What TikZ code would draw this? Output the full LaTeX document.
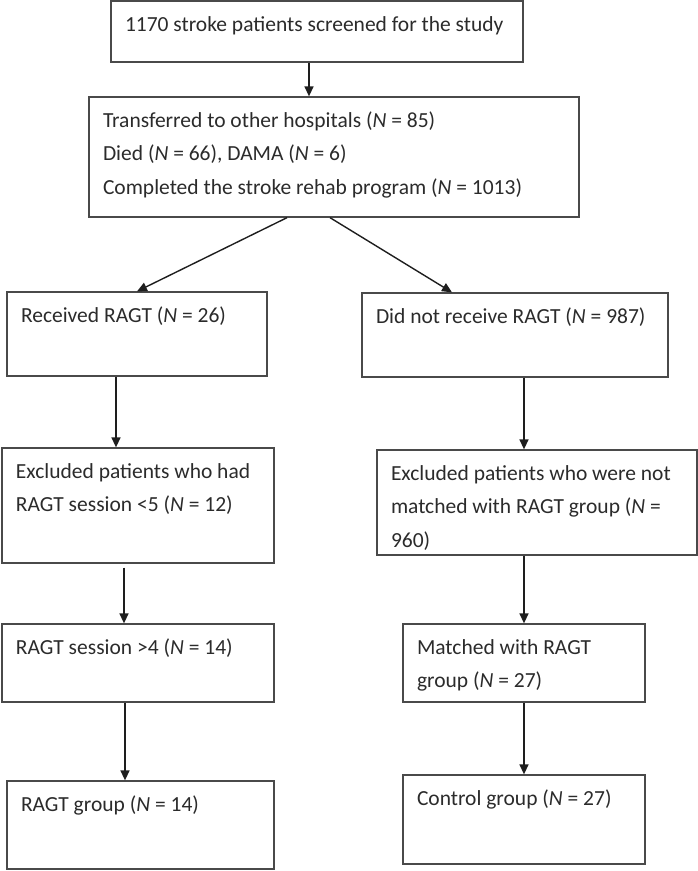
\documentclass[tikz,border=0pt]{standalone}
\usepackage{fontspec}
\setmainfont{Carlito}
\usetikzlibrary{arrows.meta}

\definecolor{boxline}{HTML}{4A4A4A}
\definecolor{arrline}{HTML}{1E1E1E}
\definecolor{txtgray}{HTML}{2B2B2B}

% text set at the top left of a box of fixed size
\newcommand{\flowtext}[3]{\parbox[c][#1][t]{#2}{\raggedright\rule{0pt}{30pt}#3}}

\tikzset{
    flowbox/.style={draw=boxline, line width=1.3pt, inner xsep=14pt, inner ysep=0pt,
        text=txtgray, font=\fontsize{21.5}{33.5}\selectfont},
    flowarrow/.style={draw=arrline, line width=1.4pt, -{Triangle[length=10pt,width=9pt]}}
}

\begin{document}
\begin{tikzpicture}[x=1pt,y=-1pt]
        \useasboundingbox (0,0) rectangle (698,871);

        \node[flowbox] (b1) at (317,31.5) {\flowtext{61pt}{384pt}{1170 stroke patients screened for the study}};
        \node[flowbox] (b2) at (334,157) {\flowtext{120pt}{462pt}{Transferred to other hospitals (\textit{N} = 85)\\
            Died (\textit{N} = 66), DAMA (\textit{N} = 6)\\
            Completed the stroke rehab program (\textit{N} = 1013)}};

        \node[flowbox] (r1) at (137,334) {\flowtext{84pt}{232pt}{Received RAGT (\textit{N} = 26)}};
        \node[flowbox] (r2) at (138,505.5) {\flowtext{115pt}{244pt}{Excluded patients who had\\
            RAGT session <5 (\textit{N} = 12)}};
        \node[flowbox] (r3) at (138,663) {\flowtext{78pt}{244pt}{RAGT session >4 (\textit{N} = 14)}};
        \node[flowbox] (r4) at (140.5,825) {\flowtext{88pt}{239pt}{RAGT group (\textit{N} = 14)}};

        \node[flowbox] (n1) at (515,335) {\flowtext{84pt}{278pt}{Did not receive RAGT (\textit{N} = 987)}};
        \node[flowbox] (n2) at (537,502.5) {\flowtext{105pt}{292pt}{Excluded patients who were not\\
            matched with RAGT group (\textit{N} =\\
            960)}};
        \node[flowbox] (n3) at (524,663) {\flowtext{78pt}{214pt}{Matched with RAGT\\
            group (\textit{N} = 27)}};
        \node[flowbox] (n4) at (524,819.5) {\flowtext{89pt}{214pt}{Control group (\textit{N} = 27)}};

        \draw[flowarrow] ([xshift=-8pt]b1.south) -- ([xshift=-8pt]b1.south |- b2.north);
        \draw[flowarrow] ([xshift=-47pt]b2.south) -- (r1.north);
        \draw[flowarrow] ([xshift=-4pt]b2.south) -- ([xshift=-63pt]n1.north);

        \draw[flowarrow] ([xshift=-21pt]r1.south) -- ([xshift=-21pt]r1.south |- r2.north);
        \draw[flowarrow, shorten <=4pt] ([xshift=-14pt]r2.south) -- ([xshift=-14pt]r2.south |- r3.north);
        \draw[flowarrow] ([xshift=-13pt]r3.south) -- ([xshift=-13pt]r3.south |- r4.north);

        \draw[flowarrow] (n3.north |- n1.south) -- (n3.north |- n2.north);
        \draw[flowarrow] (n3.north |- n2.south) -- (n3.north);
        \draw[flowarrow] (n3.south) -- (n4.north);
\end{tikzpicture}
\end{document}
